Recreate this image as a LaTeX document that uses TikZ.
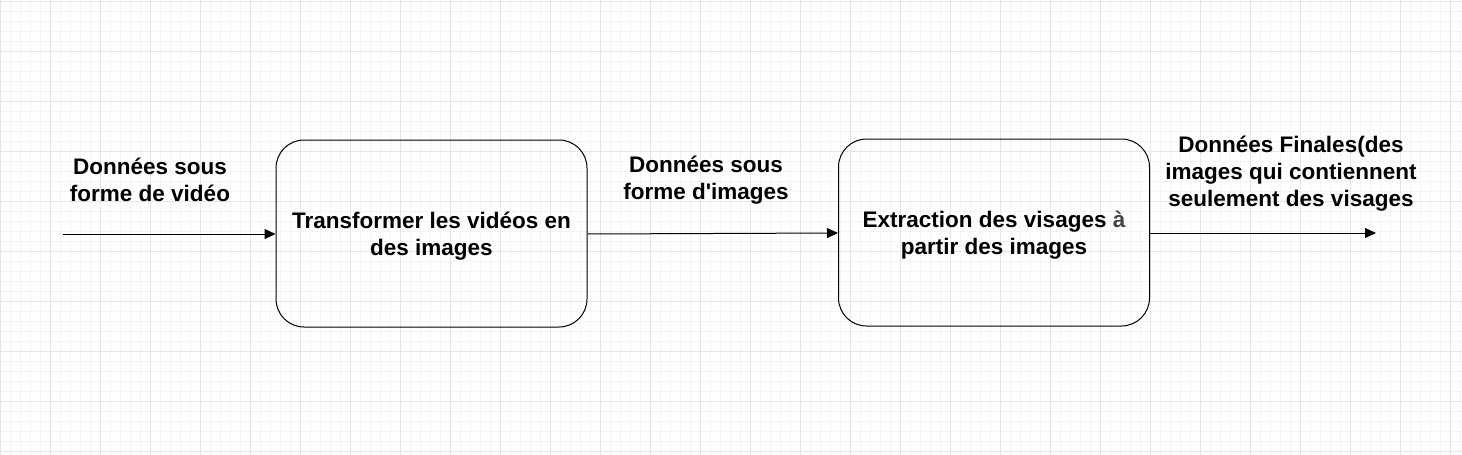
\documentclass[tikz,border=0pt]{standalone}
\usepackage{fontspec}
\setmainfont{Liberation Sans}
\usetikzlibrary{arrows.meta}
\definecolor{minorgrid}{HTML}{F4F4F4}
\definecolor{majorgrid}{HTML}{E6E6E6}
\definecolor{agray}{HTML}{444444}
\tikzset{
  px/.style={x=1pt,y=-1pt},
  procbox/.style={draw=black, line width=1pt, rounded corners=28pt, minimum width=311pt, minimum height=187pt, align=center, font=\bfseries\fontsize{22.5}{27}\selectfont, inner sep=0pt},
  boxtext/.style={align=center, font=\bfseries\fontsize{22.5}{27}\selectfont, inner sep=0pt},
  lbl/.style={align=center, font=\bfseries\fontsize{22.5}{27}\selectfont, inner sep=0pt},
  flow/.style={draw=black, line width=1pt, -{Triangle[length=11pt,width=10pt]}},
  gminor/.style={draw=minorgrid, line width=0.8pt},
  gmajor/.style={draw=majorgrid, line width=0.8pt}
}
\begin{document}
\begin{tikzpicture}[px]
\useasboundingbox (0,0) rectangle (1462,455);
\fill[white] (0,0) rectangle (1462,455);
\foreach \i in {0,10,...,1460} {\draw[gminor] (\i,0) -- (\i,455);}
\foreach \j in {1,11,...,451} {\draw[gminor] (0,\j) -- (1462,\j);}
\foreach \i in {0,50,...,1450} {\draw[gmajor] (\i,0) -- (\i,455);}
\foreach \j in {1,51,...,451} {\draw[gmajor] (0,\j) -- (1462,\j);}
\node[procbox] (b1) at (431.5,233.5) {};
\node[procbox] (b2) at (994,232.5) {};
\node[boxtext] (t1) at (431.5,236.5) {Transformer les vidéos en\\des images};
\node[boxtext] (t2) at (994,235.5) {Extraction des visages {\color{agray}à}\\partir des images};
\coordinate (in) at (63,234);
\coordinate (out) at (1376,233);
\draw[flow] (in) -- (b1.west |- in);
\draw[flow] (b1.east |- 0,234) -- (b2.west |- 0,233);
\draw[flow] (b2.east |- out) -- (out);
\node[lbl] (l1) at (150,180) {Données sous\\forme de vidéo};
\node[lbl] (l2) at (706,180) {Données sous\\forme d\textquotesingle images};
\node[lbl] (l3) at (1291,174) {Données Finales(des\\images qui contiennent\\seulement des visages};
\end{tikzpicture}
\end{document}
